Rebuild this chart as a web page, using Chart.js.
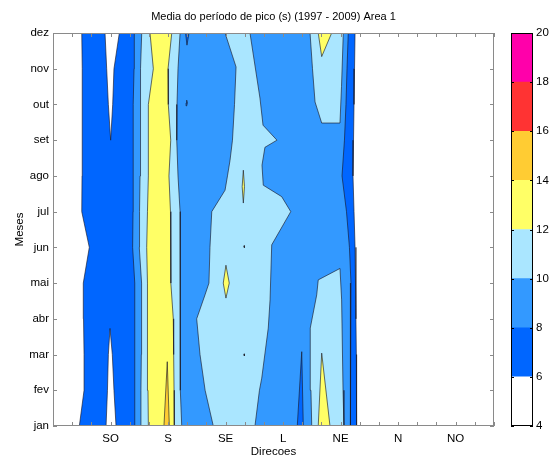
<!DOCTYPE html>
<html><head><meta charset="utf-8">
<script src="https://cdn.jsdelivr.net/npm/chart.js@4/dist/chart.umd.min.js"></script>
<style>
html,body{margin:0;padding:0;background:#fff;}
#wrap{position:relative;width:552px;height:459px;overflow:hidden;}
#main{position:absolute;left:0;top:0;}
#cbar{position:absolute;left:494px;top:0;}
</style></head><body>
<div id="wrap"><canvas id="main" width="552" height="459"></canvas><canvas id="cbar" width="58" height="459"></canvas></div>
<script>
// ---------- data ----------
const months = ['jan','fev','mar','abr','mai','jun','jul','ago','set','out','nov','dez'];
const dirTicks = {45:'SO',90:'S',135:'SE',180:'L',225:'NE',270:'N',315:'NO'};
const levels = [4,6,8,10,12,14,16,18,20];
const levelColors = ['#ffffff','#0066ff','#3399ff','#aae6ff','#ffff66','#ffcc33','#ff3333','#ff00aa'];

// contour boundaries (direction value for each month jan..dez)
const edge6Left   = [20.6,24.3,24.3,23.9,23.7,28.4,22.5,22.7,23.2,22.7,22.7,22.5];
const edge6Right  = [237.6,237.4,237.3,237.0,237.0,236.3,235.5,234.7,235.1,235.5,235.9,236.3];
const edge8Left   = [63.6,63.8,63.9,64.1,64.1,62.3,62.6,62.6,62.6,63.0,63.4,63.6];
const edge8Right  = [232.9,232.6,232.6,232.7,233.1,231.9,229.6,226.1,228.0,229.2,230.0,231.0];
const edge10Left  = [68.8,68.8,69.1,69.4,69.2,67.5,67.7,68.1,68.1,68.5,68.8,69.4];
const edge10Right = [100.7,100.1,99.7,99.4,99.4,99.4,99.4,97.8,96.8,97.0,97.8,99.4];
const edge12Left  = [74.6,74.3,74.1,73.8,73.8,73.3,73.9,74.6,74.6,74.6,78.5,75.9];
const edge12Right = [94.9,94.7,94.4,94.1,92.3,92.1,91.9,90.7,92.1,90.2,90.0,92.9];

// closed contour islands: [direction, month]
const lowSOBottom = [[41.5,1],[42.6,2],[43.3,3],[44.6,3.73],[46.4,3],[47.7,2],[49.3,1]];
const lowSOTop    = [[40.7,12],[42.0,11],[43.3,10],[45.1,9],[46.7,10],[47.7,11],[51.9,12]];
const peakS       = [[86.8,1],[89.4,2.8],[91.0,1]];
const lowSTop     = [[103.7,12],[104.8,11.66],[106.4,12]];
const lowSDot     = [[104.1,10.04],[104.6,10.12],[105.1,10.04],[104.6,9.96]];
const se10Left    = [[125.4,1],[119.0,2],[115.0,3],[112.4,4.0],[118.9,4.67],[122.0,5],[122.8,6],[124.2,7],[134.6,7.6],[136.5,8],[138.5,8.44],[140.4,9],[142.0,10],[143.2,11.05],[134.6,12]];
const se10Right   = [[154.1,12],[161.9,10.18],[164.3,9.42],[175.2,9.0],[165.8,8.8],[163.5,8.3],[164.5,7.74],[178.9,7.42],[186.0,7.0],[171.1,6.07],[169.8,4.53],[168.4,3.74],[163.3,2.34],[161.5,2],[158.0,1]];
const seSliver    = [[148.9,8.16],[149.8,7.7],[148.9,7.24],[148.0,7.7]];
const seDot1      = [[149.3,6.02],[149.6,6.05],[149.9,6.02],[149.6,5.99]];
const seDot2      = [[149.3,2.99],[149.6,3.02],[149.9,2.99],[149.6,2.96]];
const seDiamond   = [[135.3,5.5],[137.9,5.0],[135.3,4.58],[133.2,5.0]];
const neTop       = [[201.1,12],[203.0,11.0],[205.0,10.07],[210.2,9.48],[224.5,9.48],[225.7,10.5],[227.1,12]];
const neTopPeak   = [[207.5,12],[210.2,11.34],[218.0,12]];
const neBottom    = [[202.4,1],[201.8,2],[201.4,3],[201.1,3.74],[206.3,4.67],[207.5,5.09],[224.5,5.41],[225.8,4.53],[226.9,2],[227.6,1]];
const neBottomPeak= [[207.5,1],[210.2,3.04],[216.7,1]];
const lowL        = [[191.1,1],[194.6,3.08],[195.8,1]];

// ---------- build ----------
function band(l, r) {
  const pts = l.map((v,i)=>[v,i+1]);
  for (let i=r.length-1;i>=0;i--) pts.push([r[i], i+1]);
  return pts;
}
const regions = [
  [band(edge6Left, edge6Right), 1],
  [band(edge8Left, edge8Right), 2],
  [band(edge10Left, edge10Right), 3],
  [band(edge12Left, edge12Right), 4],
  [peakS, 5],
  [lowSOBottom, 0],
  [lowSOTop, 0],
  [lowSTop, 1],
  [lowSDot, 1],
  [se10Left.concat(se10Right), 3],
  [seSliver, 4],
  [seDot1, 4],
  [seDot2, 4],
  [seDiamond, 4],
  [neTop, 3],
  [neTopPeak, 4],
  [neBottom, 3],
  [neBottomPeak, 4],
  [lowL, 1]
];
const isEdge = (a,b) => a[1]===b[1] && (a[1]===1 || a[1]===12);
function chains(pts) {
  const n = pts.length;
  let start = -1;
  for (let i=0;i<n;i++) if (isEdge(pts[i], pts[(i+1)%n])) { start=(i+1)%n; break; }
  if (start<0) return [pts.concat([pts[0]])];
  const out=[]; let cur=[pts[start]];
  for (let k=0;k<n;k++) {
    const i=(start+k)%n, j=(i+1)%n;
    if (isEdge(pts[i],pts[j])) { if (cur.length>1) out.push(cur); cur=[pts[j]]; }
    else cur.push(pts[j]);
  }
  if (cur.length>1) out.push(cur);
  return out;
}
const toXY = pts => pts.map(p=>({x:p[0], y:p[1]}));
const datasets = [];
regions.forEach(([pts,lvl],idx) => {
  datasets.push({data: toXY(pts), showLine:true, fill:'shape', backgroundColor: levelColors[lvl],
    borderColor:'rgba(0,0,0,0)', borderWidth:0, pointRadius:0, tension:0, order: 1000-idx});
});
regions.forEach(([pts]) => {
  chains(pts).forEach(c => datasets.push({data: toXY(c), showLine:true, fill:false,
    borderColor:'rgba(25,25,40,0.85)', borderWidth:0.75, pointRadius:0, tension:0, order:0}));
});

Chart.defaults.font.family = '"Liberation Sans", Arial, Helvetica, sans-serif';
Chart.defaults.font.size = 11.5;
Chart.defaults.color = '#000';

const frame = {
  id:'frame',
  afterDraw(chart) {
    const {ctx, chartArea:a, scales:{x,y}} = chart;
    ctx.save();
    ctx.strokeStyle = '#8a8a8a'; ctx.lineWidth = 1;
    ctx.beginPath();
    x.ticks.forEach(t => { const px = Math.round(x.getPixelForValue(t.value))+0.5;
      ctx.moveTo(px, a.bottom); ctx.lineTo(px, a.bottom-4);
      ctx.moveTo(px, a.top); ctx.lineTo(px, a.top+4); });
    y.ticks.forEach(t => { const py = Math.round(y.getPixelForValue(t.value))+0.5;
      ctx.moveTo(a.left, py); ctx.lineTo(a.left+4, py);
      ctx.moveTo(a.right, py); ctx.lineTo(a.right-4, py); });
    ctx.stroke();
    ctx.strokeRect(Math.round(a.left)+0.5, Math.round(a.top)+0.5, Math.round(a.width)-1, Math.round(a.height)-1);
    ctx.restore();
  }
};

new Chart(document.getElementById('main'), {
  type:'scatter',
  data:{datasets},
  options:{
    responsive:false, animation:false, events:[],
    layout:{padding:{left:0,right:58,top:0,bottom:0}},
    plugins:{
      legend:{display:false}, tooltip:{enabled:false},
      title:{display:true, fullSize:false, text:'Media do período de pico (s) (1997 - 2009) Area 1',
        font:{size:11, weight:'normal'}, color:'#000', padding:{top:10, bottom:9.8}}
    },
    scales:{
      x:{type:'linear', min:0, max:345,
        ticks:{stepSize:15, autoSkip:false, maxRotation:0, padding:6, callback:v=>dirTicks[v]||''},
        grid:{display:false, drawTicks:false}, border:{display:false},
        title:{display:true, text:'Direcoes', padding:{top:0,bottom:0}},
        afterFit:s=>{s.height=33;}},
      y:{type:'linear', min:1, max:12,
        ticks:{stepSize:1, autoSkip:false, padding:4, callback:v=>months[v-1]||''},
        grid:{display:false, drawTicks:false}, border:{display:false},
        title:{display:true, text:'Meses', padding:{top:13,bottom:0}},
        afterFit:s=>{s.width=53;}}
    }
  },
  plugins:[frame]
});

// ---------- colorbar ----------
const cbarFrame = {
  id:'cbarFrame',
  afterDraw(chart) {
    const {ctx, chartArea:a, scales:{y}} = chart;
    ctx.save();
    ctx.strokeStyle = '#000'; ctx.lineWidth = 1;
    ctx.beginPath();
    y.ticks.forEach(t => { const py = Math.round(y.getPixelForValue(t.value))+0.5;
      ctx.moveTo(a.left, py); ctx.lineTo(a.left+3, py);
      ctx.moveTo(a.right, py); ctx.lineTo(a.right-3, py); });
    ctx.stroke();
    ctx.strokeRect(Math.round(a.left)+0.5, Math.round(a.top)+0.5, Math.round(a.width)-1, Math.round(a.height)-1);
    ctx.restore();
  }
};
new Chart(document.getElementById('cbar'), {
  type:'bar',
  data:{labels:[''], datasets: levelColors.map((c,i)=>({data:[[levels[i], levels[i+1]]], backgroundColor:c,
    borderWidth:0, grouped:false, barPercentage:1, categoryPercentage:1}))},
  options:{
    responsive:false, animation:false, events:[],
    layout:{padding:{top:33,bottom:33,left:17,right:0}},
    plugins:{legend:{display:false}, tooltip:{enabled:false}},
    scales:{
      x:{display:false},
      y:{position:'right', min:4, max:20, ticks:{stepSize:2, padding:3},
        grid:{display:false, drawTicks:false}, border:{display:false},
        afterFit:s=>{s.width=19;}}
    }
  },
  plugins:[cbarFrame]
});
</script>
</body></html>
